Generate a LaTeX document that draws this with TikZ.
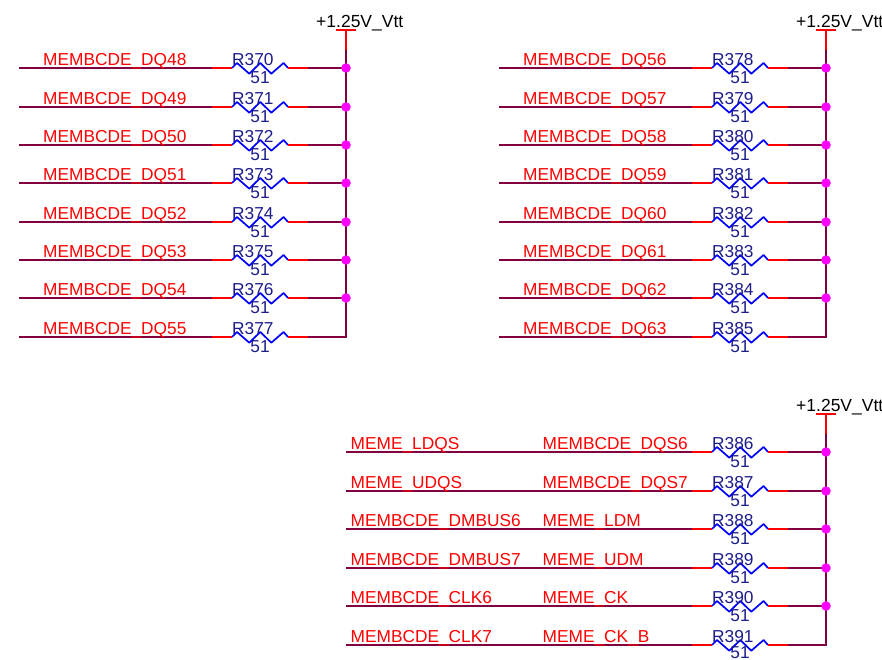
\documentclass[tikz,border=0pt]{standalone}
\usepackage{fontspec}
\setmainfont{Liberation Sans}
\definecolor{wirec}{HTML}{800040}
\definecolor{pinc}{HTML}{FF0000}
\definecolor{bodyc}{HTML}{0000FF}
\definecolor{refc}{HTML}{1C1C8C}
\definecolor{dotc}{HTML}{FF00FF}
\tikzset{
  wire/.style={draw=wirec,line width=2pt},
  pinline/.style={draw=pinc,line width=2pt},
  resbody/.style={draw=bodyc,line width=1.7pt,line join=round},
  netlabel/.style={text=pinc,anchor=base west,inner sep=0pt,font=\fontsize{17.3}{20}\selectfont},
  reflabel/.style={text=refc,anchor=base west,inner sep=0pt,font=\fontsize{17.3}{20}\selectfont},
  vallabel/.style={text=refc,anchor=base,inner sep=0pt,font=\fontsize{17.3}{20}\selectfont},
  powerlabel/.style={text=black,anchor=base west,inner sep=0pt,font=\fontsize{17.5}{20}\selectfont},
  junction/.style={circle,fill=dotc,draw=none,minimum size=9.5pt,inner sep=0pt}
}
% #1 rail x, #2 row y, #3 wire start x, #4 R number
\newcommand{\resrow}[4]{
  \coordinate (w#4) at (#3,#2);
  \coordinate (a#4) at (#1-134,#2);
  \coordinate (b#4) at (#1-114,#2);
  \coordinate (c#4) at (#1-58,#2);
  \coordinate (d#4) at (#1-38,#2);
  \coordinate (e#4) at (#1,#2);
  \path[wire] (w#4) -- (a#4);
  \path[pinline] (a#4) -- (b#4);
  \path[resbody] (b#4) -- ++(5,-5) -- ++(12.3,10.7) -- ++(11,-10.7) -- ++(11,10.7) -- ++(12.3,-10.7) -- (c#4);
  \path[pinline] (c#4) -- (d#4);
  \path[wire] (d#4) -- (e#4);
  \node[reflabel] (r#4) at (#1-114,#2-2.5) {R#4};
  \ifnum#4=391\relax
    \node[vallabel] (v#4) at (#1-86,#2+13.6) {51};
  \else
    \node[vallabel] (v#4) at (#1-86,#2+15.2) {51};
  \fi
}
% #1 rail x, #2 bar y, #3 last row y
\newcommand{\rail}[4]{
  \coordinate (top#4) at (#1,#2);
  \coordinate (mid#4) at (#1,#2+20);
  \coordinate (end#4) at (#1,#3+1);
  \path[wire] (mid#4) -- (end#4);
  \path[pinline] (top#4) -- (mid#4);
  \path[pinline] (#1-10,#2) -- (#1+10,#2);
  \node[powerlabel] (p#4) at (#1-30,#2-2.5) {+1.25V\_Vtt};
}
\begin{document}
\begin{tikzpicture}[x=1pt,y=-1pt]
\useasboundingbox (0,0) rectangle (882,660);
\rail{346}{30}{337}{A}
\rail{826}{30}{337}{B}
\rail{826}{414}{645}{C}
% block A
\foreach \y/\n/\q in {68/370/48,107/371/49,145/372/50,183/373/51,222/374/52,260/375/53,298/376/54,337/377/55}{
  \resrow{346}{\y}{19}{\n}
  \node[netlabel] (nA\n) at (43,\y-2.7) {MEMBCDE\_DQ\q};
}
% block B
\foreach \y/\n/\q in {68/378/56,107/379/57,145/380/58,183/381/59,222/382/60,260/383/61,298/384/62,337/385/63}{
  \resrow{826}{\y}{499}{\n}
  \node[netlabel] (nB\n) at (523,\y-2.7) {MEMBCDE\_DQ\q};
}
% block C
\foreach \y/\n/\l/\m in {452/386/MEME\_LDQS/MEMBCDE\_DQS6,491/387/MEME\_UDQS/MEMBCDE\_DQS7,529/388/MEMBCDE\_DMBUS6/MEME\_LDM,568/389/MEMBCDE\_DMBUS7/MEME\_UDM,606/390/MEMBCDE\_CLK6/MEME\_CK,645/391/MEMBCDE\_CLK7/MEME\_CK\_B}{
  \resrow{826}{\y}{346}{\n}
  \node[netlabel] (nC\n) at (350.5,\y-2.7) {\l};
  \node[netlabel] (mC\n) at (542.5,\y-2.7) {\m};
}
% junctions
\foreach \n in {370,...,376}{\node[junction] (jA\n) at (e\n) {};}
\foreach \n in {378,...,384}{\node[junction] (jB\n) at (e\n) {};}
\foreach \n in {386,...,390}{\node[junction] (jC\n) at (e\n) {};}
\end{tikzpicture}
\end{document}
